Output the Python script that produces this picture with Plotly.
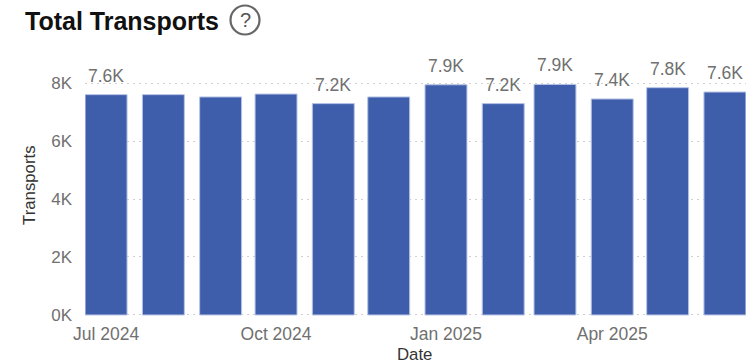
import plotly.graph_objects as go

months = ["2024-07-01", "2024-08-01", "2024-09-01", "2024-10-01", "2024-11-01", "2024-12-01",
          "2025-01-01", "2025-02-01", "2025-03-01", "2025-04-01", "2025-05-01", "2025-06-01"]
transports = [7600, 7600, 7520, 7620, 7290, 7520, 7940, 7290, 7950, 7450, 7840, 7690]
bar_labels = ["7.6K", "", "", "", "7.2K", "", "7.9K", "7.2K", "7.9K", "7.4K", "7.8K", "7.6K"]
y_ticks = [0, 2000, 4000, 6000, 8000]
y_tick_labels = ["0K", "2K", "4K", "6K", "8K"]

FONT = "Liberation Sans, Arial, sans-serif"
GREY = "#707070"
BAR_DAYS = 22.7
W, H = 746, 364
L, R, T, B = 85, 0, 81, 47

fig = go.Figure(go.Bar(
    x=months, y=transports,
    width=[BAR_DAYS * 86400000] * len(months),
    cliponaxis=False,
    marker=dict(color="#3e5dab", line=dict(color="#b7c3e6", width=1)),
))

label_annotations = [
    dict(x=m, y=v, xref="x", yref="y", text=t, showarrow=False, yanchor="middle", xanchor="center",
         yshift=19, font=dict(family=FONT, size=17.5, color=GREY))
    for m, v, t in zip(months, transports, bar_labels) if t
]

fig.update_layout(
    width=W, height=H, autosize=False,
    margin=dict(l=L, r=R, t=T, b=B),
    paper_bgcolor="white", plot_bgcolor="white",
    showlegend=False,
    font=dict(family=FONT, color=GREY),
    xaxis=dict(
        type="date", range=["2024-06-19 14:00", "2025-06-12 10:00"],
        tickmode="linear", tick0="2024-07-01", dtick="M3", tickformat="%b %Y",
        tickfont=dict(size=17.5, color=GREY), ticks="", showgrid=False, showline=False, zeroline=False,
        ticklabelstandoff=4,
    ),
    yaxis=dict(
        range=[-70, 8070], tickmode="array", tickvals=y_ticks, ticktext=y_tick_labels,
        tickfont=dict(size=17, color=GREY), ticks="", ticklabelstandoff=12,
        showgrid=True, gridcolor="#cfcfcf", griddash="2px 4px", gridwidth=1,
        zeroline=False, showline=False,
    ),
    annotations=label_annotations + [
        dict(text="Transports", xref="paper", yref="paper", x=(29 - L) / (W - L - R), y=1 - (185 - T) / (H - T - B),
             xanchor="center", yanchor="middle", textangle=-90, showarrow=False,
             font=dict(family=FONT, size=16.8, color="#333333")),
        dict(text="Date", xref="paper", yref="paper", x=(414.5 - L) / (W - L - R), y=1 - (354 - T) / (H - T - B),
             xanchor="center", yanchor="middle", showarrow=False,
             font=dict(family=FONT, size=16.8, color="#333333")),
        dict(text="<b>Total Transports</b>", xref="paper", yref="paper", x=-L / (W - L - R), y=1 + (T - 21) / (H - T - B),
             xanchor="left", xshift=23, yanchor="middle", showarrow=False,
             font=dict(family=FONT, size=25, color="#111111")),
        dict(text="?", xref="paper", yref="paper", x=-L / (W - L - R), y=1 + (T - 20) / (H - T - B),
             xanchor="center", xshift=245, yanchor="middle", showarrow=False,
             font=dict(family=FONT, size=20, color="#555555")),
    ],
    shapes=[
        dict(type="circle", xref="paper", yref="paper",
             x0=(230.5 - L) / (W - L - R), x1=(259.5 - L) / (W - L - R),
             y0=1 + (T - 34.5) / (H - T - B), y1=1 + (T - 5.5) / (H - T - B),
             line=dict(color="#666666", width=2.2), fillcolor="rgba(0,0,0,0)"),
    ],
)

fig.write_html("out.html", config={"displayModeBar": False}, post_script="document.body.style.margin='0';")
